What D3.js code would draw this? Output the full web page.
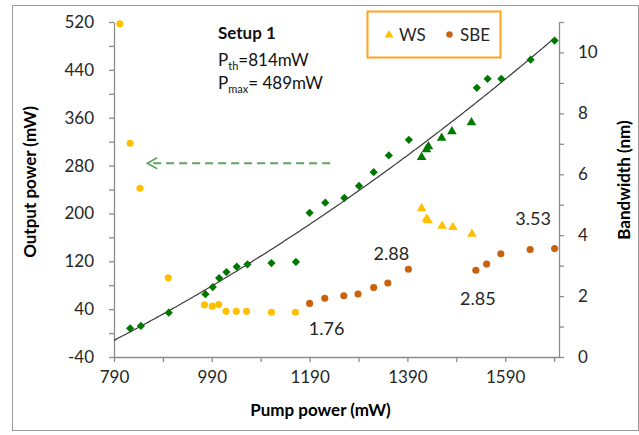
<!DOCTYPE html>
<html>
<head>
<meta charset="utf-8">
<script src="https://cdn.jsdelivr.net/npm/d3@7"></script>
<style>
  body { margin: 0; background: #fff; }
  svg { display: block; }
  text { font-family: Lato, "Open Sans", sans-serif; }
</style>
</head>
<body>
<svg id="chart" width="639" height="435"></svg>
<script>
// Output power vs pump power (left axis), diamond markers
const pumpOut  = [823, 845, 902, 977, 992, 1005, 1020, 1041, 1063, 1112, 1162, 1190, 1222, 1261, 1291, 1321, 1352, 1393, 1532, 1554, 1582, 1642, 1691];
const powerOut = [8, 12, 34, 65, 77, 92, 102, 111, 115, 117, 119, 201, 218, 226, 246, 269, 297, 323, 410, 425, 425, 457, 489];
// Output power, second run (triangle markers)
const pumpOut2  = [1419, 1429, 1433, 1460, 1481, 1521];
const powerOut2 = [294, 307, 312, 326, 337, 352];

// WS bandwidth (right axis): circle run and triangle run
const pumpWS  = [802, 823, 843, 901, 975, 991, 1004, 1019, 1040, 1061, 1112, 1161];
const bwWS    = [10.94, 7.02, 5.54, 2.60, 1.71, 1.67, 1.72, 1.50, 1.50, 1.50, 1.47, 1.47];
const pumpWS2 = [1419, 1429, 1432, 1461, 1483, 1522];
const bwWS2   = [4.88, 4.53, 4.48, 4.30, 4.26, 4.04];

// SBE bandwidth (right axis)
const pumpSBE = [1190, 1221, 1260, 1289, 1321, 1350, 1392, 1530, 1552, 1581, 1641, 1691];
const bwSBE   = [1.76, 1.93, 2.01, 2.07, 2.28, 2.43, 2.88, 2.85, 3.05, 3.39, 3.53, 3.56];
// SBE points whose bandwidth is written on the chart
const sbeLabelled = [0, 6, 7, 10];

// Axis ticks
const xTicks      = [790, 890, 990, 1090, 1190, 1290, 1390, 1490, 1590, 1690];
const xTickLabels = ["790", "990", "1190", "1390", "1590"];
const yLeftTicks  = [-40, 0, 40, 80, 120, 160, 200, 240, 280, 320, 360, 400, 440, 480, 520];
const yLeftLabels = ["-40", "40", "120", "200", "280", "360", "440", "520"];
const yRightTicks = [0, 1, 2, 3, 4, 5, 6, 7, 8, 9, 10, 11];
const yRightLabels = ["0", "2", "4", "6", "8", "10"];

const svg = d3.select("#chart");
const W = 639, H = 435;
const plot = { left: 114, right: 559, top: 22, bottom: 357 };

const x  = d3.scaleLinear().domain([790, 1700]).range([plot.left, plot.right]);
const yL = d3.scaleLinear().domain([-40, 520]).range([plot.bottom, plot.top]);
const yR = d3.scaleLinear().domain([0, 11]).range([plot.bottom, plot.top]);

const GREEN = "#007800", YELLOW = "#FFC000", ORANGE = "#C9620F", AXIS = "#8c8c8c", TXT = "#262626";

// outer frame
svg.append("rect")
  .attr("x", 12.5).attr("y", 5.5).attr("width", W - 13).attr("height", 425)
  .attr("fill", "#fff").attr("stroke", "#9a9a9a").attr("stroke-width", 1);

function styleAxis(g) {
  g.select(".domain").attr("stroke", AXIS).attr("stroke-width", 1.3);
  g.selectAll(".tick line").attr("stroke", AXIS).attr("stroke-width", 1.3);
  g.selectAll(".tick text").attr("fill", TXT).style("font-size", "17px")
    .style("font-family", "Lato, 'Open Sans', sans-serif");
}

const xAxis = d3.axisBottom(x).tickValues(xTicks).tickSize(5).tickSizeOuter(0)
  .tickFormat(d => xTickLabels.includes(String(d)) ? String(d) : "");
svg.append("g").attr("transform", `translate(0,${plot.bottom})`).call(xAxis)
  .call(styleAxis).call(g => g.selectAll(".tick text").attr("dy", "1.05em"));

const yLAxis = d3.axisLeft(yL).tickValues(yLeftTicks).tickSize(5).tickSizeOuter(0)
  .tickFormat(d => yLeftLabels.includes(String(d)) ? String(d) : "");
svg.append("g").attr("transform", `translate(${plot.left},0)`).call(yLAxis)
  .call(styleAxis).call(g => g.selectAll(".tick text").attr("x", -20));

const yRAxis = d3.axisRight(yR).tickValues(yRightTicks).tickSize(5).tickSizeOuter(0)
  .tickFormat(d => yRightLabels.includes(String(d)) ? String(d) : "");
svg.append("g").attr("transform", `translate(${plot.right},0)`).call(yRAxis)
  .call(styleAxis).call(g => g.selectAll(".tick text").attr("x", 19));

// axis titles
svg.append("text").attr("x", (plot.left + plot.right) / 2 - 16).attr("y", 416)
  .attr("text-anchor", "middle").attr("font-weight", "bold").attr("font-size", 17)
  .attr("fill", "#000").text("Pump power (mW)");
svg.append("text").attr("transform", "translate(36,182) rotate(-90)")
  .attr("text-anchor", "middle").attr("font-weight", "bold").attr("font-size", 17)
  .attr("fill", "#000").text("Output power (mW)");
svg.append("text").attr("transform", "translate(630,180) rotate(-90)")
  .attr("text-anchor", "middle").attr("font-weight", "bold").attr("font-size", 17)
  .attr("fill", "#000").text("Bandwidth (nm)");

// quadratic least-squares trend through all output-power measurements
function quadFit(xs, ys) {
  const x0 = 790;
  let S = Array(5).fill(0), T = Array(3).fill(0);
  xs.forEach((xv, i) => {
    const u = xv - x0;
    for (let k = 0; k < 5; k++) S[k] += Math.pow(u, k);
    for (let k = 0; k < 3; k++) T[k] += ys[i] * Math.pow(u, k);
  });
  const A = [[S[0], S[1], S[2], T[0]], [S[1], S[2], S[3], T[1]], [S[2], S[3], S[4], T[2]]];
  for (let c = 0; c < 3; c++) {
    for (let r = c + 1; r < 3; r++) {
      const f = A[r][c] / A[c][c];
      for (let k = c; k < 4; k++) A[r][k] -= f * A[c][k];
    }
  }
  const b = [0, 0, 0];
  for (let r = 2; r >= 0; r--) {
    let s = A[r][3];
    for (let k = r + 1; k < 3; k++) s -= A[r][k] * b[k];
    b[r] = s / A[r][r];
  }
  return v => b[0] + b[1] * (v - x0) + b[2] * (v - x0) * (v - x0);
}
const trend = quadFit(pumpOut.concat(pumpOut2), powerOut.concat(powerOut2));
const trendX = d3.range(790, 1692, 4);
svg.append("path")
  .datum(trendX)
  .attr("fill", "none").attr("stroke", "#3a3a3a").attr("stroke-width", 1.2)
  .attr("d", d3.line().x(d => x(d)).y(d => yL(trend(d))));

// markers
const diamond = d3.symbol().type(d3.symbolSquare).size(34)();
const tri = d3.symbol().type(d3.symbolTriangle).size(40)();
const circ = d3.symbol().type(d3.symbolCircle).size(40)();

function drawSeries(xs, ys, yScale, path, color, rot) {
  svg.append("g").selectAll("path").data(xs).join("path")
    .attr("d", path).attr("fill", color)
    .attr("transform", (d, i) => `translate(${x(d)},${yScale(ys[i])}) rotate(${rot || 0})`);
}
drawSeries(pumpWS, bwWS, yR, circ, YELLOW);
drawSeries(pumpWS2, bwWS2, yR, tri, YELLOW);
drawSeries(pumpSBE, bwSBE, yR, circ, ORANGE);
drawSeries(pumpOut, powerOut, yL, diamond, GREEN, 45);
drawSeries(pumpOut2, powerOut2, yL, tri, GREEN);

// bandwidth values written next to selected SBE points
const labelOffset = { 0: [17, 25], 6: [-17, -16], 7: [2, 28], 10: [3, -31] };
svg.append("g").selectAll("text").data(sbeLabelled).join("text")
  .attr("x", i => x(pumpSBE[i]) + labelOffset[i][0])
  .attr("y", i => yR(bwSBE[i]) + labelOffset[i][1])
  .attr("dy", "0.35em").attr("text-anchor", "middle")
  .attr("font-size", 18).attr("fill", TXT)
  .text(i => d3.format(".2f")(bwSBE[i]));

// dashed arrow pointing at the output-power axis
svg.append("defs").append("marker")
  .attr("id", "openArrow").attr("viewBox", "0 0 12 12").attr("refX", 11).attr("refY", 6)
  .attr("markerWidth", 12).attr("markerHeight", 14).attr("markerUnits", "userSpaceOnUse")
  .attr("orient", "auto")
  .append("path").attr("d", "M1,0.5 L11,6 L1,11.5").attr("fill", "none")
  .attr("stroke", "#5fa35f").attr("stroke-width", 1.6);
svg.append("line")
  .attr("x1", x(1232)).attr("x2", x(858))
  .attr("y1", yL(284)).attr("y2", yL(284))
  .attr("stroke", "#5fa35f").attr("stroke-width", 2).attr("stroke-dasharray", "8,5")
  .attr("marker-end", "url(#openArrow)");

// setup annotation
const ann = svg.append("g").attr("fill", "#111");
ann.append("text").attr("x", 218).attr("y", 39).attr("font-size", 17).attr("font-weight", "bold").text("Setup 1");
const t1 = ann.append("text").attr("x", 218).attr("y", 66).attr("font-size", 17);
t1.append("tspan").text("P");
t1.append("tspan").attr("font-size", 11).attr("dy", 4).text("th");
t1.append("tspan").attr("dy", -4).text("=814mW");
const t2 = ann.append("text").attr("x", 218).attr("y", 89).attr("font-size", 17);
t2.append("tspan").text("P");
t2.append("tspan").attr("font-size", 11).attr("dy", 4).text("max");
t2.append("tspan").attr("dy", -4).text("= 489mW");

// legend
const lg = svg.append("g");
lg.append("rect").attr("x", 367.5).attr("y", 11.5).attr("width", 133).attr("height", 46)
  .attr("fill", "#fff").attr("stroke", "#FFA31A").attr("stroke-width", 2);
lg.append("path").attr("d", d3.symbol().type(d3.symbolTriangle).size(34)())
  .attr("transform", "translate(389,35)").attr("fill", YELLOW);
lg.append("text").attr("x", 399).attr("y", 35).attr("dy", "0.35em").attr("font-size", 17).attr("fill", TXT).text("WS");
lg.append("circle").attr("cx", 449.5).attr("cy", 34.5).attr("r", 3.2).attr("fill", ORANGE);
lg.append("text").attr("x", 460).attr("y", 35).attr("dy", "0.35em").attr("font-size", 17).attr("fill", TXT).text("SBE");
</script>
</body>
</html>
